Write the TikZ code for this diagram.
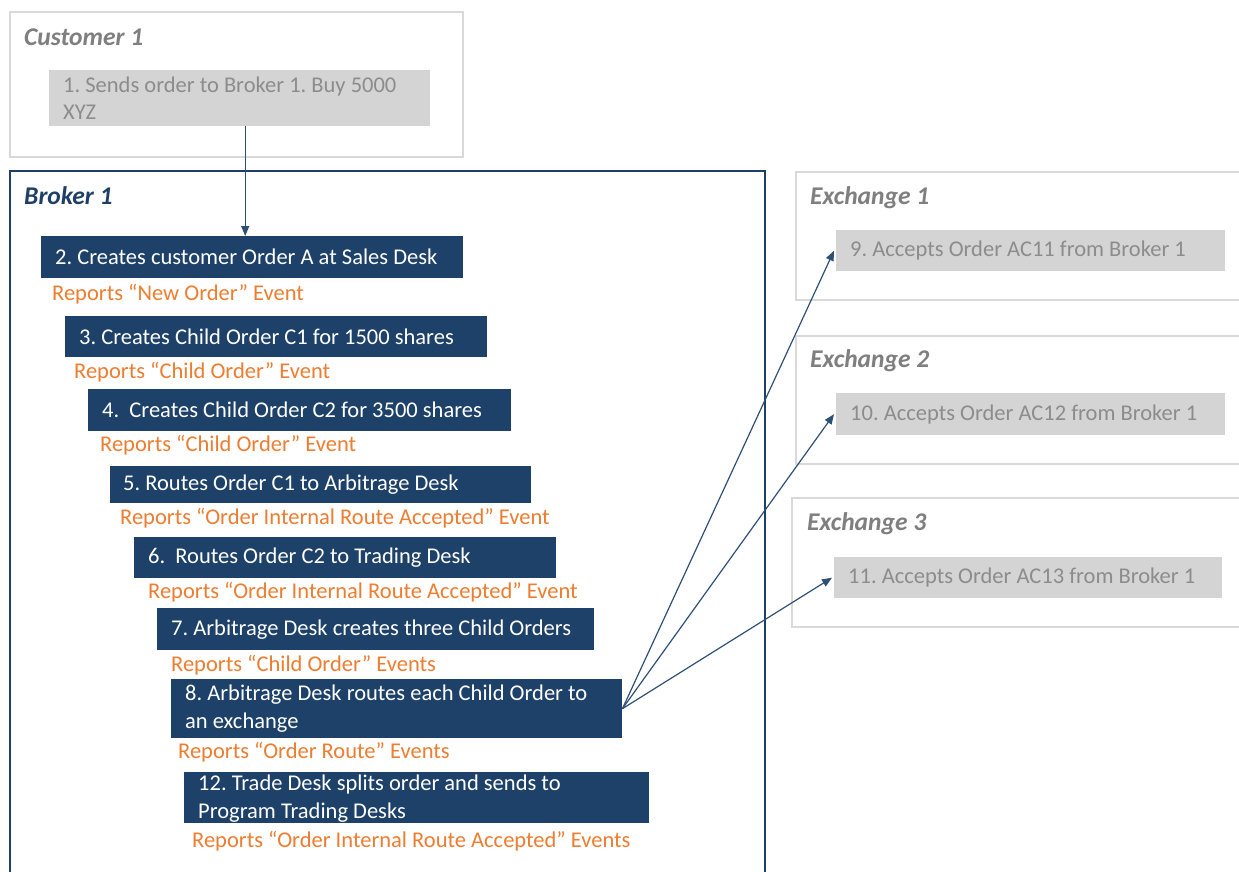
\documentclass[tikz,border=0pt]{standalone}
\usepackage{fontspec}
\setmainfont{Carlito}
\usetikzlibrary{arrows.meta,calc}
\frenchspacing
\definecolor{dblue}{HTML}{1D4168}
\definecolor{bborder}{HTML}{1F3F66}
\definecolor{lgborder}{HTML}{D9D9D9}
\definecolor{gfill}{HTML}{D4D4D4}
\definecolor{gtext}{HTML}{8C8C8C}
\definecolor{ttext}{HTML}{7F7F7F}
\definecolor{orng}{HTML}{ED7D31}
\definecolor{arrc}{HTML}{2E5077}
\tikzset{
  txtfont/.style={font=\fontsize{22.5}{27.5}\selectfont},
  bluebox/.style={fill=dblue, anchor=north west, inner sep=0pt},
  graybox/.style={fill=gfill, anchor=north west, inner sep=0pt},
  bluetext/.style={txtfont, text=white, anchor=west, align=left, inner sep=0pt},
  graytext/.style={txtfont, text=gtext, anchor=west, align=left, inner sep=0pt},
  replabel/.style={txtfont, text=orng, anchor=base west, inner sep=0pt},
  titlelbl/.style={font=\fontsize{25.5}{30}\selectfont\bfseries\itshape, anchor=base west, inner sep=0pt},
  frameg/.style={draw=lgborder, line width=2.5pt},
  arr/.style={draw=arrc, line width=1.2pt, -{Triangle[length=10pt,width=8pt]}}
}
\begin{document}
\begin{tikzpicture}[x=1pt,y=-1pt]
\useasboundingbox (0,0) rectangle (1239,871);
\clip (0,0) rectangle (1239,871);
\fill[white] (0,0) rectangle (1239,871);
% frames
\draw[frameg] (10,12) rectangle (463,157);
\draw[draw=bborder, line width=2pt] (10,171) rectangle (765,890);
\draw[frameg] (796,172) rectangle (1260,300);
\draw[frameg] (796,336) rectangle (1260,464);
\draw[frameg] (792,498) rectangle (1260,627);
% titles
\node[titlelbl, text=ttext] (tcust) at (24,45) {Customer 1};
\node[titlelbl, text=bborder] (tbrok) at (24,204) {Broker 1};
\node[titlelbl, text=ttext] (tex1) at (810,204) {Exchange 1};
\node[titlelbl, text=ttext] (tex2) at (810,367) {Exchange 2};
\node[titlelbl, text=ttext] (tex3) at (807,530) {Exchange 3};
% customer box
\node[graybox, minimum width=381pt, minimum height=56pt] (c1) at (49,70) {};
\node[graytext] (c1t) at ([xshift=14pt]c1.west) {1. Sends order to Broker 1. Buy 5000\\XYZ};
% exchange boxes
\node[graybox, minimum width=389pt, minimum height=41pt] (e9) at (836,230) {};
\node[graytext] (e9t) at ([xshift=14pt]e9.west) {9. Accepts Order AC11 from Broker 1};
\node[graybox, minimum width=389pt, minimum height=42pt] (e10) at (836,393) {};
\node[graytext] (e10t) at ([xshift=14pt]e10.west) {10. Accepts Order AC12 from Broker 1};
\node[graybox, minimum width=388pt, minimum height=41pt] (e11) at (834,557) {};
\node[graytext] (e11t) at ([xshift=14pt]e11.west) {11. Accepts Order AC13 from Broker 1};
% broker steps
\node[bluebox, minimum width=422pt, minimum height=42pt] (b2) at (41,236) {};
\node[bluetext] (b2t) at ([xshift=14pt]b2.west) {2. Creates customer Order A at Sales Desk};
\node[replabel] (r2) at (52,300.2) {Reports “New Order” Event};
\node[bluebox, minimum width=422pt, minimum height=41pt] (b3) at (65,316) {};
\node[bluetext] (b3t) at ([xshift=14pt]b3.west) {3. Creates Child Order C1 for 1500 shares};
\node[replabel] (r3) at (74,378.2) {Reports “Child Order” Event};
\node[bluebox, minimum width=423pt, minimum height=42pt] (b4) at (88,389) {};
\node[bluetext] (b4t) at ([xshift=14pt]b4.west) {4.\ \ Creates Child Order C2 for 3500 shares};
\node[replabel] (r4) at (100,451.2) {Reports “Child Order” Event};
\node[bluebox, minimum width=421pt, minimum height=37pt] (b5) at (110,466) {};
\node[bluetext] (b5t) at ([xshift=13pt]b5.west) {5. Routes Order C1 to Arbitrage Desk};
\node[replabel] (r5) at (120,524.2) {Reports “Order Internal Route Accepted” Event};
\node[bluebox, minimum width=422pt, minimum height=41pt] (b6) at (134,537) {};
\node[bluetext] (b6t) at ([xshift=14pt]b6.west) {6.\ \ Routes Order C2 to Trading Desk};
\node[replabel] (r6) at (148,598.2) {Reports “Order Internal Route Accepted” Event};
\node[bluebox, minimum width=437pt, minimum height=42pt] (b7) at (157,608) {};
\node[bluetext] (b7t) at ([xshift=14pt]b7.west) {7. Arbitrage Desk creates three Child Orders};
\node[replabel] (r7) at (171,671.2) {Reports “Child Order” Events};
\node[bluebox, minimum width=451pt, minimum height=59pt] (b8) at (171,679) {};
\node[bluetext] (b8t) at ([xshift=14pt]b8.west) {8. Arbitrage Desk routes each Child Order to\\an exchange};
\node[replabel] (r8) at (178,758.2) {Reports “Order Route” Events};
\node[bluebox, minimum width=465pt, minimum height=51pt] (b12) at (184,772) {};
\node[bluetext] (b12t) at ([xshift=14pt,yshift=-1pt]b12.west) {12. Trade Desk splits order and sends to\\Program Trading Desks};
\node[replabel] (r12) at (192,847.2) {Reports “Order Internal Route Accepted” Events};
% arrows
\draw[arr] ([xshift=5.5pt]c1.south) -- ([xshift=5.5pt]c1.south |- b2.north);
\draw[arr] (b8.east) -- ([xshift=-2pt]e9.west);
\draw[arr] (b8.east) -- ([xshift=-2pt]e10.west);
\draw[arr] (b8.east) -- ([xshift=-2pt]e11.west);
\end{tikzpicture}
\end{document}
